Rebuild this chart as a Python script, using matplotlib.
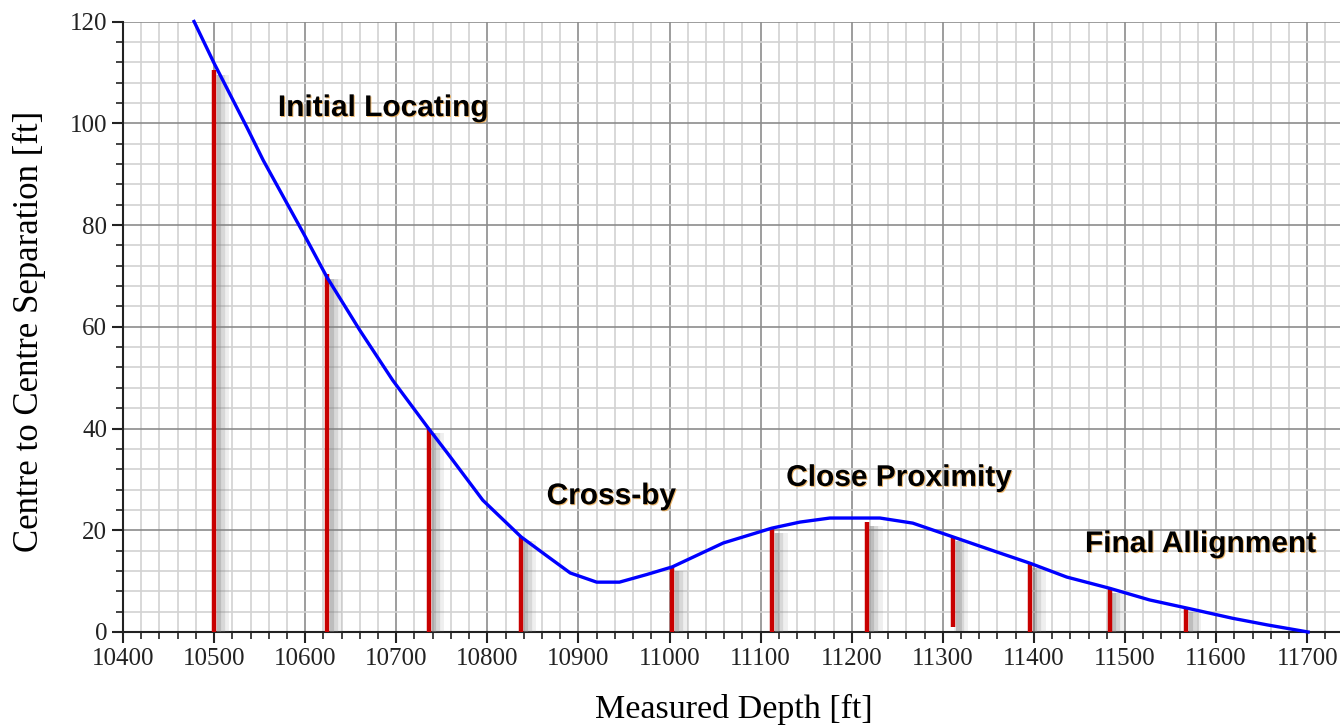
import matplotlib
matplotlib.use("Agg")
import matplotlib.pyplot as plt
import matplotlib.patheffects as pe
from matplotlib.ticker import MultipleLocator

# separation curve
depth = [10478, 10500, 10536, 10554, 10598, 10624, 10660, 10696, 10735, 10756,
         10795, 10837, 10865, 10891, 10920, 10945, 10975, 11003, 11059, 11112,
         11143, 11176, 11231, 11267, 11311, 11363, 11396, 11436, 11483, 11527,
         11568, 11618, 11656, 11701]
separation = [120, 111.8, 99.2, 92.7, 78.4, 69.7, 59.3, 49.5, 40.1, 35.2,
              25.9, 18.7, 15.0, 11.6, 9.8, 9.8, 11.3, 12.8, 17.5, 20.4,
              21.6, 22.4, 22.4, 21.4, 18.7, 15.5, 13.5, 10.8, 8.6, 6.3,
              4.7, 2.7, 1.4, 0]

# red markers (survey stations)
stem_depth = [10500, 10624, 10736, 10837, 11003, 11113, 11217, 11311, 11396, 11483, 11567]
stem_top = [110.4, 70.3, 40, 18.7, 12.8, 20.2, 21.6, 18.7, 13.4, 8.4, 4.7]
stem_bottom = [0, 0, 0, 0, 0, 0, 0, 1, 0, 0, 0]

phase_names = ["Initial Locating", "Cross-by", "Close Proximity", "Final Allignment"]
phase_x = [10570, 10865, 11128, 11456]
phase_y = [103, 26.7, 30.3, 17.3]

fig = plt.figure(figsize=(13.4, 7.28), dpi=100)
ax = fig.add_axes([123 / 1340, 1 - 632 / 728, 1 - 123 / 1340, (632 - 21.5) / 728])

ax.set_xlim(10400, 11736)
ax.set_ylim(0, 120)

ax.xaxis.set_major_locator(MultipleLocator(100))
ax.xaxis.set_minor_locator(MultipleLocator(20))
ax.yaxis.set_major_locator(MultipleLocator(20))
ax.yaxis.set_minor_locator(MultipleLocator(4))

ax.grid(which="minor", color="#d2d2d2", lw=1.2, zorder=0)
ax.grid(which="major", color="#8c8c8c", lw=1.2, zorder=0)
ax.set_axisbelow(True)

for s in ["top", "right"]:
    ax.spines[s].set_visible(False)
for s in ["left", "bottom"]:
    ax.spines[s].set_color("#222222")
    ax.spines[s].set_linewidth(1.5)

ax.tick_params(which="major", direction="out", length=8, width=1.5, color="#222222",
               labelsize=18, labelcolor="#222222")
ax.tick_params(which="minor", direction="out", length=5, width=1.2, color="#222222")
for lab in ax.get_xticklabels() + ax.get_yticklabels():
    lab.set_family("Liberation Serif")

# stems with a soft gray shadow on the right
shadow = [pe.SimpleLineShadow(offset=(6, -3), shadow_color="gray", alpha=0.12, linewidth=10),
          pe.SimpleLineShadow(offset=(5, -3), shadow_color="gray", alpha=0.2, linewidth=6),
          pe.SimpleLineShadow(offset=(3.5, -3), shadow_color="gray", alpha=0.3, linewidth=3),
          pe.Normal()]
ax.vlines(stem_depth, stem_bottom, stem_top, color="#c80000", lw=3.2, zorder=3,
          path_effects=shadow)

ax.plot(depth, separation, color="#0000ff", lw=2.4, zorder=4, clip_on=False,
        solid_joinstyle="round")

for name, x, y in zip(phase_names, phase_x, phase_y):
    ax.text(x, y, name, fontsize=21.5, fontweight="bold", family="Liberation Sans",
            va="center", ha="left", color="black", zorder=5,
            path_effects=[pe.withSimplePatchShadow(offset=(0.7, -0.7),
                                                   shadow_rgbFace="#e89a30", alpha=0.7)])

fig.text(734 / 1340, 10 / 728, "Measured Depth [ft]", family="Liberation Serif",
         fontsize=24.5, ha="center", va="baseline")
fig.text(29 / 1340, 1 - 331 / 728, "Centre to Centre Separation [ft]",
         family="Liberation Serif", fontsize=25, rotation=90, ha="center", va="center")

fig.savefig("out.png", dpi=100)
